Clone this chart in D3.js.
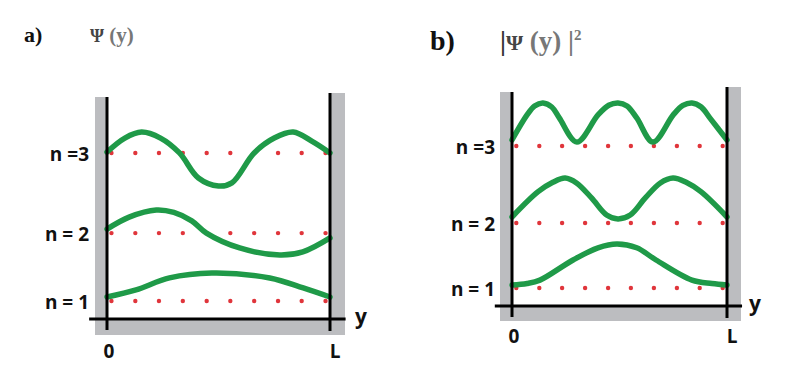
<!DOCTYPE html>
<html>
<head>
<meta charset="utf-8">
<script src="https://cdn.jsdelivr.net/npm/d3@7"></script>
<style>
  body { margin: 0; background: #fff; }
  svg { display: block; }
  .lbl { font-family: "Open Sans", sans-serif; font-weight: 700; fill: #111; }
  .ttl { font-family: "Liberation Serif", "Times New Roman", serif; font-weight: 700; }
</style>
</head>
<body>
<div id="chart"></div>
<script>
// Level names and where each level sits (units: axis = 0, wall top = 10)
var levelNames = ["n = 1", "n = 2", "n =3"];
var levelsA = [0.81, 3.87, 7.48];
var levelsB = [0.84, 3.88, 7.48];

// positions of the red dots along the box (0 = left wall, 1 = L)
var dotT = [0.02, 0.127, 0.233, 0.34, 0.447, 0.553, 0.66, 0.767, 0.873, 0.98];

// a) wave functions, [position, value]
var psiA1 = [[0, 0.99], [0.13, 1.31], [0.28, 1.85], [0.47, 2.07], [0.73, 1.85], [0.88, 1.40], [1, 0.99]];
var psiA2 = [[0, 4.05], [0.099, 4.59], [0.221, 4.91], [0.30, 4.80], [0.38, 4.42], [0.446, 3.87], [0.595, 3.20],
             [0.775, 2.88], [0.878, 3.02], [1, 3.65]];
var psiA3 = [[0, 7.52], [0.08, 8.15], [0.155, 8.42], [0.24, 8.15], [0.325, 7.48], [0.41, 6.35], [0.5, 5.99], [0.56, 6.13],
             [0.66, 7.48], [0.75, 8.15], [0.835, 8.42], [0.92, 8.0], [1, 7.48]];

// b) probability densities
var probB1 = [[0, 0.98], [0.07, 1.05], [0.13, 1.21], [0.284, 2.15], [0.40, 2.72], [0.488, 2.90], [0.58, 2.72],
              [0.67, 2.15], [0.837, 1.21], [0.93, 1.05], [1, 0.98]];
var probB2 = [[0, 4.16], [0.12, 5.33], [0.19, 5.78], [0.247, 5.98], [0.30, 5.75], [0.37, 5.05], [0.44, 4.25], [0.493, 4.07],
              [0.55, 4.25], [0.62, 5.05], [0.69, 5.75], [0.749, 5.98], [0.81, 5.78], [0.88, 5.33], [1, 4.16]];
var probB3 = [[0, 7.76], [0.07, 8.93], [0.105, 9.35], [0.144, 9.49], [0.185, 9.3], [0.22, 8.79], [0.302, 7.66],
              [0.40, 8.93], [0.45, 9.38], [0.493, 9.49], [0.535, 9.35], [0.58, 8.79], [0.656, 7.66],
              [0.75, 8.93], [0.795, 9.37], [0.837, 9.49], [0.88, 9.3], [0.92, 8.79], [1, 7.76]];

var width = 800, height = 389;
var green = "#1f9a48", red = "#e0353b", gray = "#bcbdc0";

var svg = d3.select("#chart").append("svg")
  .attr("width", width)
  .attr("height", height);

function drawPanel(opt) {
  var x = d3.scaleLinear().domain([0, 1]).range(opt.xRange);
  var y = d3.scaleLinear().domain([0, 10]).range(opt.yRange);
  var g = svg.append("g");

  // grey walls and floor
  g.append("rect")
    .attr("x", x(0) - opt.grayL).attr("y", opt.topL)
    .attr("width", opt.grayL).attr("height", y(0) + opt.floor - opt.topL)
    .attr("fill", gray);
  g.append("rect")
    .attr("x", x(1)).attr("y", opt.topR)
    .attr("width", opt.grayR).attr("height", y(0) + opt.floor - opt.topR)
    .attr("fill", gray);
  g.append("rect")
    .attr("x", x(0) - opt.grayL).attr("y", y(0))
    .attr("width", x(1) + opt.grayR - x(0) + opt.grayL).attr("height", opt.floor)
    .attr("fill", gray);

  // red dotted levels
  opt.levels.forEach(function (lv) {
    g.selectAll(null)
      .data(dotT)
      .enter()
      .append("circle")
      .attr("cx", function (d) { return x(d); })
      .attr("cy", y(lv))
      .attr("r", 2.2)
      .attr("fill", red);
  });

  // green curves
  var line = d3.line()
    .x(function (d) { return x(d[0]); })
    .y(function (d) { return y(d[1]); })
    .curve(d3.curveCatmullRom.alpha(0.5));
  opt.curves.forEach(function (c) {
    g.append("path")
      .attr("d", line(c))
      .attr("fill", "none")
      .attr("stroke", green)
      .attr("stroke-width", 5.5)
      .attr("stroke-linecap", "round");
  });

  // black walls and axis
  g.append("line")
    .attr("x1", x(0)).attr("x2", x(0))
    .attr("y1", opt.topL).attr("y2", y(0) + 11)
    .attr("stroke", "#000").attr("stroke-width", 3);
  g.append("line")
    .attr("x1", x(1)).attr("x2", x(1))
    .attr("y1", opt.topR).attr("y2", y(0) + 12)
    .attr("stroke", "#000").attr("stroke-width", 3);
  g.append("line")
    .attr("x1", x(-0.08)).attr("x2", x(1.07))
    .attr("y1", y(0)).attr("y2", y(0))
    .attr("stroke", "#000").attr("stroke-width", 3);

  // level labels
  g.selectAll(null)
    .data(opt.levels)
    .enter()
    .append("text")
    .attr("class", "lbl")
    .attr("x", opt.labelX)
    .attr("y", function (d) { return y(d) + 8; })
    .attr("text-anchor", "end")
    .style("font-size", "19px")
    .text(function (d, i) { return levelNames[i]; });

  // 0, L and y
  g.append("text").attr("class", "lbl")
    .attr("x", x(0) + 2).attr("y", y(0) + opt.tickDy)
    .attr("text-anchor", "middle").style("font-size", "19px").text("0");
  g.append("text").attr("class", "lbl")
    .attr("x", x(1) + 5).attr("y", y(0) + opt.tickDy)
    .attr("text-anchor", "middle").style("font-size", "19px").text("L");
  g.append("text").attr("class", "lbl")
    .attr("x", x(1) + opt.yLabelDx).attr("y", y(0) + 5)
    .style("font-size", "21px").text("y");
}

drawPanel({
  xRange: [107, 330], yRange: [319, 97],
  topL: 97, topR: 93, grayL: 12, grayR: 15, floor: 16,
  levels: levelsA, curves: [psiA1, psiA2, psiA3],
  labelX: 89, tickDy: 39, yLabelDx: 25
});

drawPanel({
  xRange: [512, 727], yRange: [306, 92],
  topL: 92, topR: 87, grayL: 12, grayR: 14, floor: 15,
  levels: levelsB, curves: [probB1, probB2, probB3],
  labelX: 495, tickDy: 37, yLabelDx: 22
});

// panel titles
var tA = svg.append("text").attr("class", "ttl").attr("x", 24).attr("y", 42);
tA.append("tspan").style("font-size", "22px").attr("fill", "#111").text("a)");
var tA2 = svg.append("text").attr("class", "ttl").attr("x", 90).attr("y", 42);
tA2.append("tspan").style("font-size", "18px").attr("fill", "#444").text("\u03A8");
tA2.append("tspan").style("font-size", "21px").attr("fill", "#777").text(" (y)");

var tB = svg.append("text").attr("class", "ttl").attr("x", 430).attr("y", 50);
tB.append("tspan").style("font-size", "28px").attr("fill", "#111").text("b)");
var tB2 = svg.append("text").attr("class", "ttl").attr("x", 500).attr("y", 50);
tB2.append("tspan").style("font-size", "27px").attr("fill", "#333").text("|");
tB2.append("tspan").style("font-size", "22px").attr("fill", "#444").text("\u03A8");
tB2.append("tspan").style("font-size", "27px").attr("fill", "#777").text(" (y) |");
tB2.append("tspan").style("font-size", "15px").attr("fill", "#777").attr("dy", -10).text("2");
</script>
</body>
</html>
